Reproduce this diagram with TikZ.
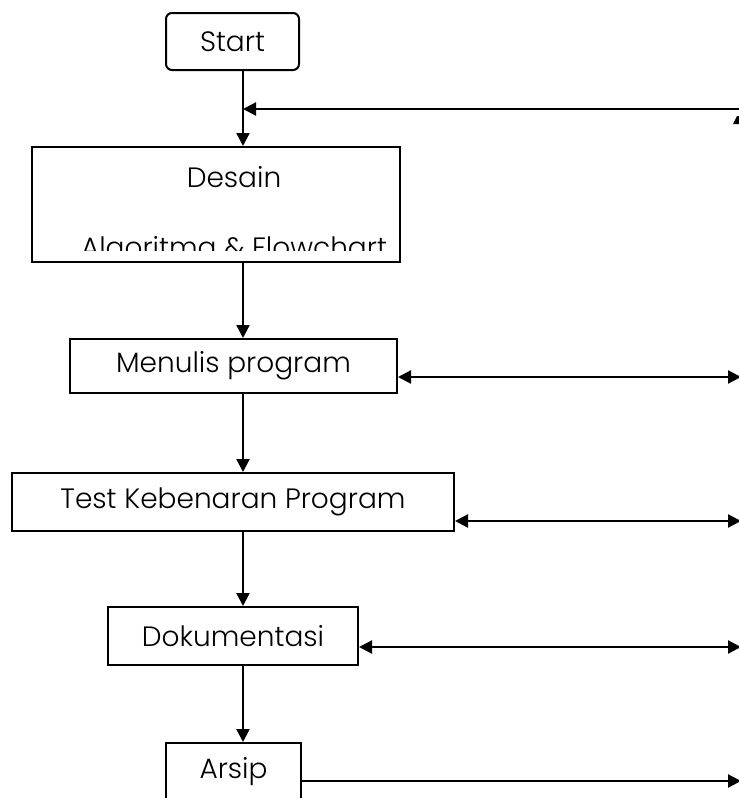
\documentclass[tikz,border=0pt]{standalone}
\usepackage{fontspec}
\setmainfont{Poppins}[UprightFont=* Light]
\usetikzlibrary{arrows.meta}

\begin{document}
\begin{tikzpicture}[x=1pt,y=-1pt,
  line width=2.2pt,
  font=\fontsize{28}{33}\selectfont,
  box/.style={draw, rectangle, inner sep=0pt, line width=2pt},
  flow/.style={-{Triangle[length=13pt,width=13pt]}},
  both/.style={{Triangle[length=13pt,width=13pt]}-{Triangle[length=13pt,width=13pt]}}]
  % page frame
  \useasboundingbox[fill=white] (0,0) rectangle (739,798);
  \clip (0,0) rectangle (739,798);

  % spine of the main flow
  \coordinate (spine) at (243,0);

  % process boxes
  \node[box, rounded corners=6pt, minimum width=133pt, minimum height=57pt] (start) at (232.5,41.5) {Start};
  \node[box, minimum width=368pt, minimum height=115pt] (desain) at (216,204.5) {};
  \node (desainA) at (234,177) {Desain};
  \begin{scope}
    \clip (40,150) rectangle (430,250);
    \node[anchor=base] (desainB) at (234,257) {Algoritma \& Flowchart};
  \end{scope}
  \node[box, minimum width=327pt, minimum height=54pt] (menulis) at (233.5,366) {Menulis program};
  \node[box, minimum width=442pt, minimum height=58pt] (test) at (233,502) {Test Kebenaran Program};
  \node[box, minimum width=250pt, minimum height=58pt] (dok) at (233,636) {Dokumentasi};
  \node[box, minimum width=135pt, minimum height=110pt, anchor=north] (arsip) at (233.5,742) {};
  \node (arsipT) at (233.5,772) {Arsip};

  % vertical flow
  \coordinate (tj) at (243,109);
  \draw (start.south -| spine) -- (tj);
  \draw[flow] (tj) -- (desain.north -| spine);
  \draw[flow] (desain.south -| spine) -- (menulis.north -| spine);
  \draw[flow] (menulis.south -| spine) -- (test.north -| spine);
  \draw[flow] (test.south -| spine) -- (dok.north -| spine);
  \draw[flow] (dok.south -| spine) -- (arsip.north -| spine);

  % side connectors
  \coordinate (topR) at (739,109);
  \coordinate (menR) at (741,377);
  \coordinate (testR) at (741,521);
  \coordinate (dokR) at (741,647);
  \coordinate (arsR) at (741,781);
  \draw[flow] (topR) -- (tj);
  \draw[both] (menulis.east |- menR) -- (menR);
  \draw[both] (test.east |- testR) -- (testR);
  \draw[both] (dok.east |- dokR) -- (dokR);
  \draw[flow] (arsip.east |- arsR) -- (arsR);

  % tip of a further arrowhead at the right edge
  \fill (733,124) -- (737,116) -- (739,116) -- (739,124) -- cycle;
\end{tikzpicture}
\end{document}
